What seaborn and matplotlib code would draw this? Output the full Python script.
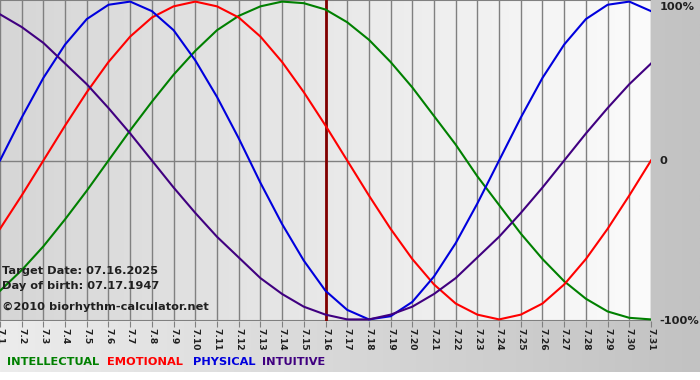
import numpy as np
import pandas as pd
import matplotlib
matplotlib.use("Agg")
import matplotlib.pyplot as plt
import seaborn as sns
from matplotlib.colors import LinearSegmentedColormap

# ---- data (one value per day, fraction of 100%) ----
days = list(range(1, 32))
tick_labels = [f"7.{d}" for d in days]

physical = [0.00, 0.27, 0.52, 0.73, 0.89, 0.98, 1.00, 0.94, 0.82, 0.63, 0.40,
            0.14, -0.14, -0.40, -0.63, -0.82, -0.94, -1.00, -0.98, -0.89, -0.73,
            -0.52, -0.27, 0.00, 0.27, 0.52, 0.73, 0.89, 0.98, 1.00, 0.94]
emotional = [-0.43, -0.22, 0.00, 0.22, 0.43, 0.62, 0.78, 0.90, 0.97, 1.00, 0.97,
             0.90, 0.78, 0.62, 0.43, 0.22, 0.00, -0.22, -0.43, -0.62, -0.78,
             -0.90, -0.97, -1.00, -0.97, -0.90, -0.78, -0.62, -0.43, -0.22, 0.00]
intellectual = [-0.82, -0.69, -0.54, -0.37, -0.19, 0.00, 0.19, 0.37, 0.54, 0.69, 0.82,
                0.91, 0.97, 1.00, 0.99, 0.95, 0.87, 0.76, 0.62, 0.46, 0.28,
                0.10, -0.10, -0.28, -0.46, -0.62, -0.76, -0.87, -0.95, -0.99, -1.00]
intuitive = [0.92, 0.84, 0.74, 0.61, 0.48, 0.33, 0.17, 0.00, -0.17, -0.33, -0.48,
             -0.61, -0.74, -0.84, -0.92, -0.97, -1.00, -1.00, -0.97, -0.92, -0.84,
             -0.74, -0.61, -0.48, -0.33, -0.17, 0.00, 0.17, 0.33, 0.48, 0.61]

series_names = ["INTELLECTUAL", "EMOTIONAL", "PHYSICAL", "INTUITIVE"]
series_colors = ["#008000", "#ff0000", "#0000dd", "#400080"]
target_day = 16
info_lines = ["Target Date: 07.16.2025", "Day of birth: 07.17.1947"]
copyright_text = "\u00a92010 biorhythm-calculator.net"

df = pd.concat([
    pd.DataFrame({"day": days, "value": vals, "series": name})
    for name, vals in zip(series_names,
                          [intellectual, emotional, physical, intuitive])
], ignore_index=True)

# ---- figure ----
W, H = 700, 380
fig = plt.figure(figsize=(W / 100, H / 100), dpi=100)
fig.patch.set_facecolor("white")

# background band with horizontal gradient
bg = fig.add_axes([0, 8 / H, 1, 1 - 8 / H], zorder=0)
grad = np.linspace(0, 1, 256)[None, :]
cm_bg = LinearSegmentedColormap.from_list("bg", ["#ececec", "#c2c2c2"])
bg.imshow(grad, aspect="auto", cmap=cm_bg, extent=[0, 1, 0, 1])
bg.set_axis_off()

ax_left, ax_w = 0.0, 651 / W
ax_bottom, ax_h = (H - 321) / H, 321 / H
ax = fig.add_axes([ax_left, ax_bottom, ax_w, ax_h], zorder=1)

cm_plot = LinearSegmentedColormap.from_list("pl", ["#d6d6d6", "#fbfbfb"])
ax.imshow(grad, aspect="auto", cmap=cm_plot,
          extent=[days[0], days[-1], -1.01, 1.01], zorder=0)

for d in days:
    ax.axvline(d, color="#808080", lw=1.0, zorder=1)
ax.axhline(0, color="#808080", lw=1.0, zorder=1)
ax.axhline(1.01, color="#808080", lw=1.5, zorder=1)
ax.axhline(-1.01, color="#808080", lw=1.5, zorder=1)
ax.axvline(target_day, color="#800000", lw=2.0, zorder=2)

sns.lineplot(data=df, x="day", y="value", hue="series",
             palette=dict(zip(series_names, series_colors)),
             legend=False, ax=ax, linewidth=1.5, zorder=3, sort=False)

ax.set_xlim(days[0], days[-1])
ax.set_ylim(-1.01, 1.01)
for s in ax.spines.values():
    s.set_visible(False)
ax.set_xlabel("")
ax.set_ylabel("")
ax.set_yticks([])
ax.set_xticks(days)
ax.set_xticklabels(tick_labels, rotation=270, fontsize=6.6,
                   fontweight="bold", color="#202020")
ax.tick_params(axis="x", length=4, color="#808080", pad=1)

txt_kw = dict(fontsize=8.2, fontweight="bold", color="#202020",
              transform=ax.transAxes, clip_on=False)
ax.text(1.013, 0.995, "100%", va="top", ha="left", **txt_kw)
ax.text(1.013, 0.5, "0", va="center", ha="left", **txt_kw)
ax.text(1.013, 0.0, "-100%", va="center", ha="left", **txt_kw)

ax.text(0.003, (321 - 271) / 321, info_lines[0], va="center", ha="left", **txt_kw)
ax.text(0.003, (321 - 286) / 321, info_lines[1], va="center", ha="left", **txt_kw)
ax.text(0.003, (321 - 307) / 321, copyright_text, va="center", ha="left", **txt_kw)

# legend as coloured words
leg_x = [7, 107, 193, 262]
for name, col, x in zip(series_names, series_colors, leg_x):
    fig.text(x / W, 1 - 362 / H, name, color=col, fontsize=8.2,
             fontweight="bold", va="center", ha="left")

fig.savefig("out.png", dpi=100)
